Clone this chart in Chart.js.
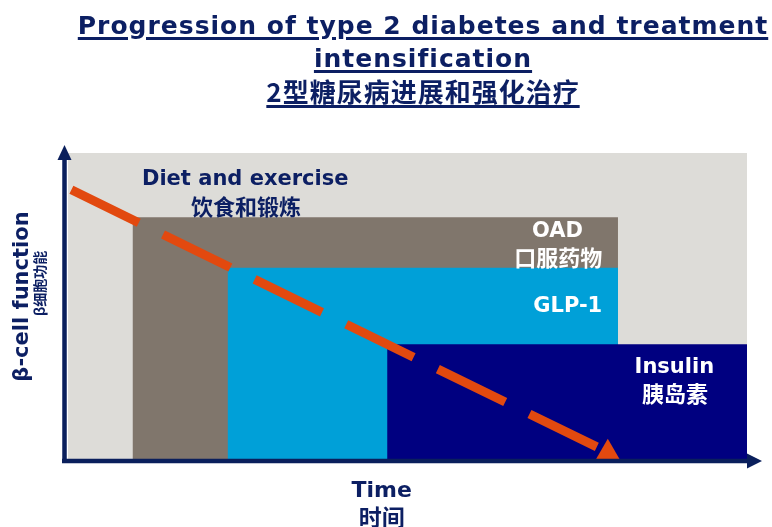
<!DOCTYPE html>
<html>
<head>
<meta charset="utf-8">
<script src="https://cdn.jsdelivr.net/npm/chart.js@4.4.1/dist/chart.umd.min.js"></script>
<style>
  html, body { margin: 0; padding: 0; background: #fff; }
  #wrap { position: relative; width: 772px; height: 527px; }
  #myChart { position: absolute; left: 0; top: 0; }
  .ttl {
    position: absolute; left: 74px; width: 698px; text-align: center;
    color: #0c1f63; font-weight: bold; white-space: nowrap;
    text-decoration: underline; text-decoration-thickness: 2.5px; text-underline-offset: 3px;
  }
  .en { font-family: "DejaVu Sans", Verdana, sans-serif; font-size: 25px; line-height: 33px; letter-spacing: 1px; }
  .zh { font-family: "Noto Sans CJK SC", sans-serif; font-size: 26px; line-height: 28px; letter-spacing: 1px; }
</style>
</head>
<body>
<div id="wrap">
  <canvas id="myChart" width="772" height="527"></canvas>
  <div class="ttl en" style="top:9px">Progression of type 2 diabetes and treatment</div>
  <div class="ttl en" style="top:42px">intensification</div>
  <div class="ttl zh" style="top:77px">2型糖尿病进展和强化治疗</div>
</div>
<script>
// treatment stages: start / end on the time axis, height on the beta-cell axis
const stages = ['Diet and exercise', 'OAD', 'GLP-1', 'Insulin']
const stageStart = [0, 9.5, 23.5, 47]
const stageEnd = [100, 81, 81, 100]
const stageLevel = [100, 79, 62.5, 37.5]
const stageColors = ['#dddcd8', '#80766c', '#00a0d8', '#000080']

// beta-cell function decline (start of line, arrow tip)
const declineX = [0.5, 79.5]
const declineY = [88, 2.2]

const navy = '#0c1f63'
const latin = '"DejaVu Sans", Verdana, sans-serif'
const cjk = '"Noto Sans CJK SC", sans-serif'

// text placed in axis units
const labels = [
  {text: 'Diet and exercise', x: 26.1, y: 89.5, color: navy, font: 'bold 21px ' + latin, base: 'alphabetic'},
  {text: '饮食和锻炼', x: 26.2, y: 82.4, color: navy, font: 'bold 22px ' + cjk, base: 'middle'},
  {text: 'OAD', x: 72.1, y: 72.5, color: '#fff', font: 'bold 21px ' + latin, base: 'alphabetic'},
  {text: '口服药物', x: 72.2, y: 65.8, color: '#fff', font: 'bold 22px ' + cjk, base: 'middle'},
  {text: 'GLP-1', x: 73.6, y: 48, color: '#fff', font: 'bold 21px ' + latin, base: 'alphabetic'},
  {text: 'Insulin', x: 89.3, y: 28.1, color: '#fff', font: 'bold 21px ' + latin, base: 'alphabetic'},
  {text: '胰岛素', x: 89.4, y: 21.2, color: '#fff', font: 'bold 22px ' + cjk, base: 'middle'},
  {text: 'Time', x: 46.2, y: -12.4, color: navy, font: 'bold 22px ' + latin, base: 'alphabetic'},
  {text: '时间', x: 46.2, y: -19, color: navy, font: 'bold 23px ' + cjk, base: 'middle'},
  {text: 'β-cell function', x: -5.9, y: 53.1, color: navy, font: 'bold 21px ' + latin, base: 'alphabetic', rotate: true},
  {text: 'β细胞功能', x: -4.1, y: 57.4, color: navy, font: 'bold 14px ' + cjk, base: 'middle', rotate: true}
]

const rect = (i) => [
  {x: stageStart[i], y: 0},
  {x: stageStart[i], y: stageLevel[i]},
  {x: stageEnd[i], y: stageLevel[i]},
  {x: stageEnd[i], y: 0}
]

const stageSets = stages.map((name, i) => ({
  label: name,
  data: rect(i),
  showLine: true,
  fill: 'origin',
  backgroundColor: stageColors[i],
  borderWidth: 0,
  pointRadius: 0,
  order: 10 - i
}))

const axesAndText = {
  id: 'axesAndText',
  afterDatasetsDraw(chart) {
    const ctx = chart.ctx
    const a = chart.chartArea
    const xs = chart.scales.x, ys = chart.scales.y
    ctx.save()
    ctx.fillStyle = '#0a1f5c'
    // y axis with arrow
    const ax = a.left - 3.5
    ctx.fillRect(ax - 2.25, a.top - 2, 4.5, a.bottom - a.top + 6)
    ctx.beginPath()
    ctx.moveTo(ax, a.top - 8)
    ctx.lineTo(ax - 7, a.top + 7)
    ctx.lineTo(ax + 7, a.top + 7)
    ctx.fill()
    // x axis with arrow
    const ay = a.bottom + 2
    ctx.fillRect(a.left - 6, ay - 2.25, a.right - a.left + 10, 4.5)
    ctx.beginPath()
    ctx.moveTo(a.right + 15, ay)
    ctx.lineTo(a.right, ay - 7.5)
    ctx.lineTo(a.right, ay + 7.5)
    ctx.fill()

    labels.forEach(l => {
      const px = xs.getPixelForValue(l.x)
      const py = ys.getPixelForValue(l.y)
      ctx.font = l.font
      ctx.fillStyle = l.color
      ctx.textAlign = 'center'
      ctx.textBaseline = l.base
      if (l.rotate) {
        ctx.save()
        ctx.translate(px, py)
        ctx.rotate(-Math.PI / 2)
        ctx.fillText(l.text, 0, 0)
        ctx.restore()
      } else {
        ctx.fillText(l.text, px, py)
      }
    })
    ctx.restore()
  }
}

const ctx = document.getElementById('myChart').getContext('2d')
const myChart = new Chart(ctx, {
  type: 'scatter',
  data: {
    datasets: [{
      label: 'β-cell function',
      data: declineX.map((x, i) => ({x: x, y: declineY[i]})),
      showLine: true,
      fill: false,
      borderColor: '#e2490f',
      borderWidth: 9,
      borderDash: [75, 27],
      borderCapStyle: 'butt',
      pointStyle: 'triangle',
      pointRadius: [0, 13.5],
      pointBackgroundColor: '#e2490f',
      pointBorderWidth: 0,
      clip: false,
      order: 0
    }, ...stageSets]
  },
  options: {
    responsive: false,
    animation: false,
    events: [],
    layout: {padding: {left: 68, right: 25, top: 153, bottom: 68}},
    scales: {
      x: {type: 'linear', min: 0, max: 100, display: false},
      y: {type: 'linear', min: 0, max: 100, display: false}
    },
    plugins: {
      legend: {display: false},
      tooltip: {enabled: false}
    }
  },
  plugins: [axesAndText]
})
</script>
</body>
</html>
